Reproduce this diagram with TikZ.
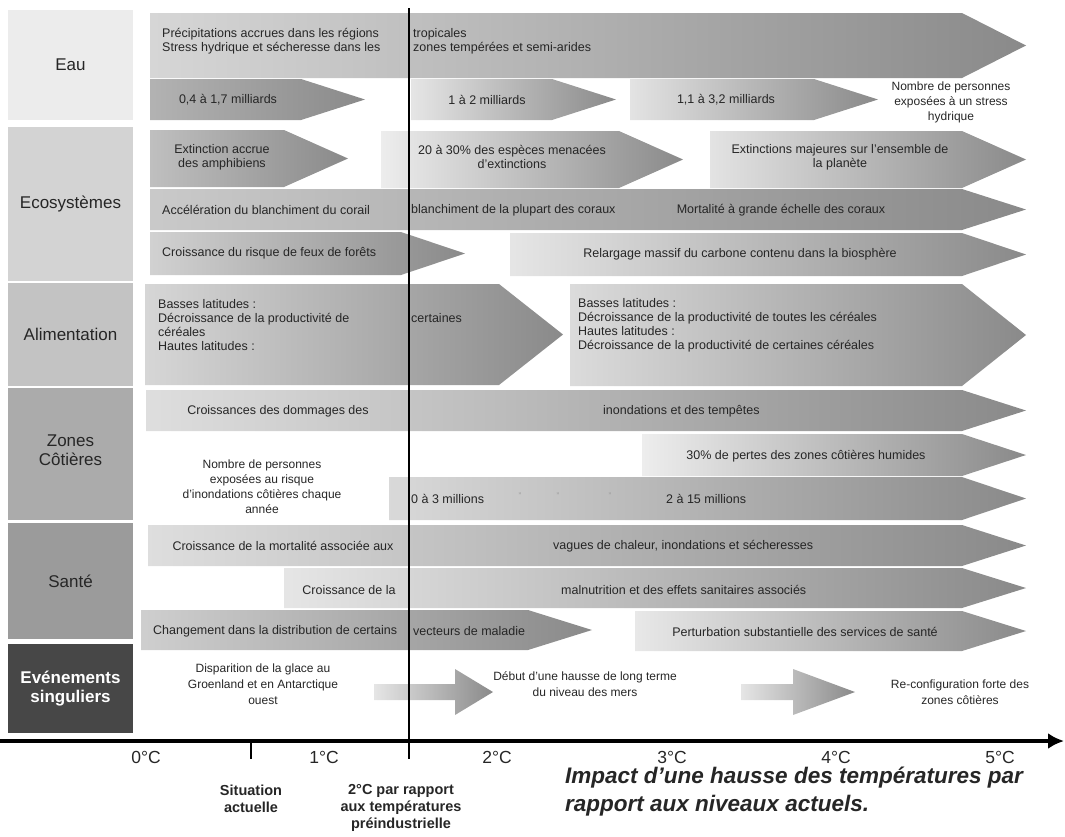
\documentclass[tikz,border=0pt]{standalone}
\usepackage{fontspec}
\setmainfont{Liberation Sans}
\usetikzlibrary{arrows.meta}

\definecolor{catEau}{HTML}{ECECEC}
\definecolor{catEco}{HTML}{D3D3D3}
\definecolor{catAli}{HTML}{C3C3C3}
\definecolor{catCot}{HTML}{ABABAB}
\definecolor{catSan}{HTML}{9B9B9B}
\definecolor{catEve}{HTML}{474747}
\definecolor{ink}{HTML}{262626}

% chevron bar: [shade] x-left, x-tip, y-top, y-bottom
\newcommand{\chev}[5][14]{%
  \path[bar=#1] (#2,#4) -- ({#3-64},#4) -- (#3,{(#4+#5)/2}) -- ({#3-64},#5) -- (#2,#5) -- cycle;}

\begin{document}
\begin{tikzpicture}[x=1pt, y=-1pt,
    cat/.style={rectangle, minimum width=125pt, text=ink, font=\fontsize{17}{19}\selectfont, align=center, inner sep=0pt},
    txt/.style={font=\fontsize{12.5}{14}\selectfont, text=ink, inner sep=0pt},
    lft/.style={txt, anchor=west, align=left},
    mid/.style={txt, align=center},
    deg/.style={font=\fontsize{17.5}{20}\selectfont, text=ink, inner sep=0pt},
    note/.style={font=\bfseries\fontsize{14.5}{17}\selectfont, text=ink, align=center, inner sep=0pt},
    bar/.style={left color=black!#1, right color=black!46},
    bar/.default=14,
    block/.style={left color=black!10, right color=black!46}
]
\useasboundingbox (0,0) rectangle (1065,836);

% categories
\node[cat, fill=catEau, minimum height=110pt] (eau) at (70.5,65) {Eau};
\node[cat, fill=catEco, minimum height=154pt] (eco) at (70.5,204) {Ecosystèmes};
\node[cat, fill=catAli, minimum height=103pt] (ali) at (70.5,334.5) {Alimentation};
\node[cat, fill=catCot, minimum height=132pt] (cot) at (70.5,454) {};
\node[cat] (cotl) at (70.5,450) {Zones\\Côtières};
\node[cat, fill=catSan, minimum height=116pt] (san) at (70.5,581) {Santé};
\node[cat, fill=catEve, minimum height=89pt, text=white, font=\bfseries\fontsize{17}{19}\selectfont] (eve) at (70.5,688.5) {Evénements\\singuliers};

% Eau
\chev[16]{150}{1026}{13}{78}
\chev[30]{150}{365}{79}{120}
\chev[10]{411}{616}{79}{120}
\chev[11]{630}{878}{79}{120}
% Ecosystemes
\chev[25]{150}{348}{130}{187}
\chev[7]{381}{683}{131}{188}
\chev[11]{710}{1026}{131}{188}
\chev[21]{150}{1026}{189}{230}
\chev[18]{150}{465}{232}{275}
\chev[10]{510}{1026}{233}{276}
% Alimentation
\chev[16]{145}{563}{284}{385}
\chev[14]{570}{1026}{284}{386}
% Zones cotieres
\chev[13]{146}{1026}{390}{431}
\chev[7]{642}{1026}{434}{476}
\chev[15]{389}{1026}{477}{520}
% Sante
\chev[13]{148}{1026}{525}{566}
\chev[10]{284}{1026}{568}{608}
\chev[19]{141}{592}{610}{650}
\chev[9]{635}{1026}{611}{651}
% evenements singuliers
\path[block] (374,684) -- (455,684) -- (455,669) -- (493,692) -- (455,715) -- (455,700) -- (374,700) -- cycle;
\path[block] (741,684) -- (793,684) -- (793,669) -- (855,692) -- (793,715) -- (793,700) -- (741,700) -- cycle;

% 2 degC line, axis
\coordinate (lig0) at (409,8);
\coordinate (lig1) at (409,759);
\coordinate (act0) at (251,743);
\coordinate (act1) at (251,759);
\coordinate (ax0) at (0,741);
\coordinate (ax1) at (1064,741);
\draw[line width=2pt] (lig0) -- (lig1);
\draw[line width=2pt] (act0) -- (act1);
\draw[line width=4pt, -{Latex[length=16pt, width=16pt]}] (ax0) -- (ax1);

% Eau texts
\node[lft] (eau1) at (162,41) {Précipitations accrues dans les régions\\Stress hydrique et sécheresse dans les};
\node[lft] (eau2) at (413,41) {tropicales\\zones tempérées et semi-arides};
\node[mid] (eau3) at (228,100) {0,4 à 1,7 milliards};
\node[mid] (eau4) at (487,100) {1 à 2 milliards};
\node[mid] (eau5) at (726,100) {1,1 à 3,2 milliards};
\node[mid, font=\fontsize{12}{15}\selectfont] (eau6) at (951,102) {Nombre de personnes\\exposées à un stress\\hydrique};

% Ecosystemes texts
\node[mid] (eco1) at (222,157) {Extinction accrue\\des amphibiens};
\node[mid] (eco2) at (512,157) {20 à 30\% des espèces menacées\\d'extinctions};
\node[mid] (eco3) at (840,157) {Extinctions majeures sur l'ensemble de\\la planète};
\node[lft] (eco4) at (162,210) {Accélération du blanchiment du corail};
\node[lft] (eco5) at (411,210) {blanchiment de la plupart des coraux};
\node[mid] (eco6) at (781,210) {Mortalité à grande échelle des coraux};
\node[lft] (eco7) at (162,253) {Croissance du risque de feux de forêts};
\node[mid] (eco8) at (740,254) {Relargage massif du carbone contenu dans la biosphère};

% Alimentation texts
\node[lft] (ali1) at (158,325) {Basses latitudes :\\Décroissance de la productivité de\\céréales\\Hautes latitudes :};
\node[lft] (ali2) at (411,318) {certaines};
\node[lft] (ali3) at (578,325) {Basses latitudes :\\Décroissance de la productivité de toutes les céréales\\Hautes latitudes :\\Décroissance de la productivité de certaines céréales};

% Zones cotieres texts
\node[mid] (cot1) at (278,411) {Croissances des dommages des};
\node[lft] (cot2) at (603,411) {inondations et des tempêtes};
\node[mid] (cot3) at (806,456) {30\% de pertes des zones côtières humides};
\node[mid, font=\fontsize{12}{15}\selectfont] (cot4) at (262,487) {Nombre de personnes\\exposées au risque\\d'inondations côtières chaque\\année};
\node[lft] (cot5) at (411,499) {0 à 3 millions};
\node[txt, text=black!40, font=\fontsize{8}{9}\selectfont] (dit1) at (520,496) {"};
\node[txt, text=black!40, font=\fontsize{8}{9}\selectfont] (dit2) at (558,496) {"};
\node[txt, text=black!40, font=\fontsize{8}{9}\selectfont] (dit3) at (610,496) {"};
\node[lft] (cot6) at (666,499) {2 à 15 millions};

% Sante texts
\node[mid] (san1) at (283,546) {Croissance de la mortalité associée aux};
\node[lft] (san2) at (553,546) {vagues de chaleur, inondations et sécheresses};
\node[mid] (san3) at (349,590) {Croissance de la};
\node[lft] (san4) at (561,590) {malnutrition et des effets sanitaires associés};
\node[lft] (san5) at (153,631) {Changement dans la distribution de certains};
\node[lft] (san6) at (413,631) {vecteurs de maladie};
\node[mid] (san7) at (805,632) {Perturbation substantielle des services de santé};

% evenements singuliers texts
\node[mid, font=\fontsize{12}{16}\selectfont] (eve1) at (263,684) {Disparition de la glace au\\Groenland et en Antarctique\\ouest};
\node[mid, font=\fontsize{12}{16}\selectfont] (eve2) at (585,684) {Début d’une hausse de long terme\\du niveau des mers};
\node[mid, font=\fontsize{12}{16}\selectfont] (eve3) at (960,692) {Re-configuration forte des\\zones côtières};

% axis labels
\node[deg] (t0) at (146,757) {0°C};
\node[deg] (t1) at (324,757) {1°C};
\node[deg] (t2) at (497,757) {2°C};
\node[deg] (t3) at (672,757) {3°C};
\node[deg] (t4) at (836,757) {4°C};
\node[deg] (t5) at (1000,757) {5°C};

\node[note] (actu) at (251,799) {Situation\\actuelle};
\node[note] (preind) at (401,808) {2°C par rapport\\aux températures\\préindustrielle};
\node[anchor=west, align=left, text=ink, inner sep=0pt, font=\bfseries\itshape\fontsize{22.5}{28}\selectfont] (titre) at (565,792) {Impact d’une hausse des températures par\\rapport aux niveaux actuels.};
\end{tikzpicture}
\end{document}
